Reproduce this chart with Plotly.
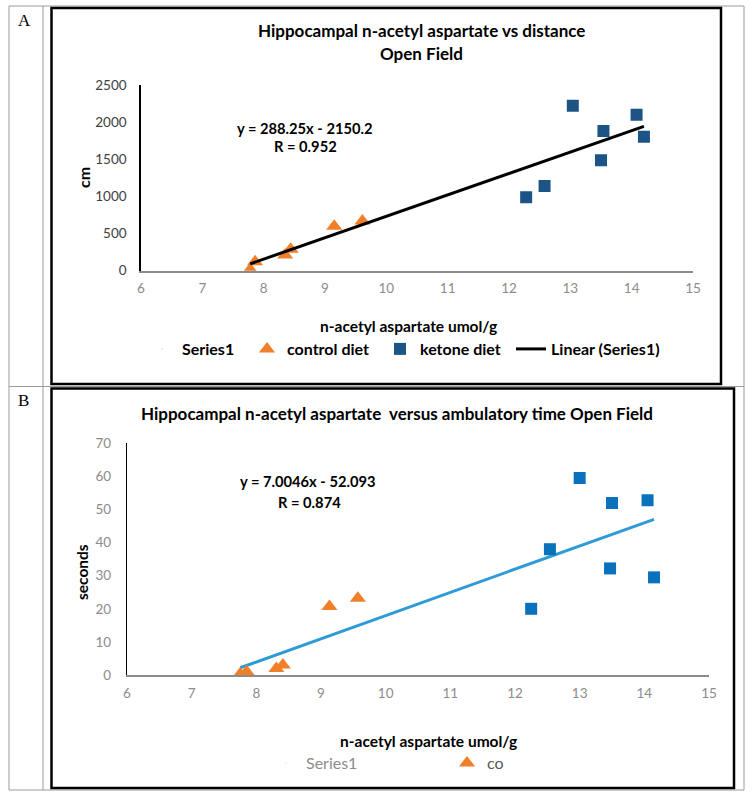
import plotly.graph_objects as go

W, H = 755, 800


def px(x):
    return x / W


def py(y):
    return 1 - y / H


# ---------------- data ----------------
x_ticks = [6, 7, 8, 9, 10, 11, 12, 13, 14, 15]

# Panel A: distance (cm)
a_control_x = [7.78, 7.86, 8.35, 8.44, 9.15, 9.61]
a_control_y = [15, 120, 211, 290, 600, 670]
a_ketone_x = [12.28, 12.58, 13.04, 13.50, 13.54, 14.08, 14.20]
a_ketone_y = [988, 1140, 2221, 1486, 1880, 2100, 1804]
a_slope, a_intercept = 288.25, -2150.2
a_y_ticks = [0, 500, 1000, 1500, 2000, 2500]

# Panel B: ambulatory time (seconds)
b_control_x = [7.75, 7.85, 8.31, 8.41, 9.13, 9.57]
b_control_y = [0.3, 1, 2, 3, 20.7, 23.2]
b_ketone_x = [12.25, 12.54, 13.00, 13.47, 13.50, 14.05, 14.15]
b_ketone_y = [20, 38, 59.5, 32.2, 52, 52.8, 29.5]
b_slope, b_intercept = 7.0046, -52.093
b_y_ticks = [0, 10, 20, 30, 40, 50, 60, 70]

FONT = "Lato"
ORANGE = "#F07F2A"
DARKBLUE = "#1C5486"
BLUE = "#0A72BD"
LIGHTBLUE = "#2E9BD8"

fig = go.Figure()

# ---- Panel A traces ----
a_all_x = a_control_x + a_ketone_x
a_all_y = a_control_y + a_ketone_y
fig.add_trace(go.Scatter(x=a_all_x, y=a_all_y, mode="markers", name="Series1",
                         marker=dict(size=1, opacity=0), xaxis="x", yaxis="y",
                         legend="legend", legendwidth=60, hoverinfo="skip"))
fig.add_trace(go.Scatter(x=a_control_x, y=a_control_y, mode="markers", name="control diet",
                         marker=dict(symbol="triangle-up", size=14, color=ORANGE),
                         xaxis="x", yaxis="y", legend="legend", legendwidth=88))
fig.add_trace(go.Scatter(x=a_ketone_x, y=a_ketone_y, mode="markers", name="ketone diet",
                         marker=dict(symbol="square", size=12, color=DARKBLUE),
                         xaxis="x", yaxis="y", legend="legend", legendwidth=86))
a_lx = [min(a_all_x), max(a_all_x)]
a_ly = [a_slope * v + a_intercept for v in a_lx]
fig.add_trace(go.Scatter(x=a_lx, y=a_ly, mode="lines", name="Linear (Series1)",
                         line=dict(color="black", width=3), xaxis="x", yaxis="y",
                         legend="legend"))

# ---- Panel B traces ----
b_all_x = b_control_x + b_ketone_x
b_all_y = b_control_y + b_ketone_y
fig.add_trace(go.Scatter(x=b_all_x, y=b_all_y, mode="markers",
                         name="<span style='color:#8C8C8C'>Series1</span>",
                         marker=dict(size=1, opacity=0), xaxis="x2", yaxis="y2",
                         legend="legend2", legendwidth=136, hoverinfo="skip"))
b_lx = [min(b_all_x), max(b_all_x)]
b_ly = [b_slope * v + b_intercept for v in b_lx]
fig.add_trace(go.Scatter(x=b_lx, y=b_ly, mode="lines", name="Linear",
                         line=dict(color=LIGHTBLUE, width=3), xaxis="x2", yaxis="y2",
                         showlegend=False))
fig.add_trace(go.Scatter(x=b_control_x, y=b_control_y, mode="markers", name="co",
                         marker=dict(symbol="triangle-up", size=14, color=ORANGE),
                         xaxis="x2", yaxis="y2", legend="legend2"))
fig.add_trace(go.Scatter(x=b_ketone_x, y=b_ketone_y, mode="markers", name="ketone",
                         marker=dict(symbol="square", size=12, color=BLUE),
                         xaxis="x2", yaxis="y2", showlegend=False))

# ---- axes ----
common_x = dict(range=[6, 15], tickvals=x_ticks, showgrid=False, zeroline=False,
                showline=True, linecolor="#8A8A8A", linewidth=1.5, ticks="",
                automargin=False,
                tickfont=dict(family=FONT, size=13.5, color="#8C8C8C"), fixedrange=True)

fig.update_layout(
    width=W, height=H, autosize=False,
    margin=dict(l=0, r=0, t=0, b=0, pad=0, autoexpand=False),
    paper_bgcolor="white", plot_bgcolor="white",
    font=dict(family=FONT, color="black"),
    xaxis=dict(common_x, domain=[px(141), px(693)], anchor="y", ticklabelstandoff=4),
    yaxis=dict(range=[0, 2500], tickvals=a_y_ticks, domain=[py(270.7), py(85)],
               anchor="x", showgrid=False, zeroline=False, showline=True,
               linecolor="black", linewidth=1.5, ticks="", automargin=False,
               tickfont=dict(family=FONT, size=13.5, color="#404040"),
               ticklabelstandoff=10),
    xaxis2=dict(common_x, domain=[px(127), px(709)], anchor="y2", ticklabelstandoff=5),
    yaxis2=dict(range=[0, 70], tickvals=b_y_ticks, domain=[py(675), py(443.3)],
                anchor="x2", showgrid=False, zeroline=False, showline=True,
                linecolor="black", linewidth=1.2, ticks="", automargin=False,
                tickfont=dict(family=FONT, size=13.5, color="#8C8C8C"),
                ticklabelstandoff=12),
    legend=dict(orientation="h", x=px(142), y=py(349), xanchor="left", yanchor="middle",
                xref="container", yref="container",
                font=dict(family=FONT, size=16, color="black", weight="bold"),
                bgcolor="rgba(0,0,0,0)", borderwidth=0, itemclick=False,
                itemdoubleclick=False, tracegroupgap=0),
    legend2=dict(orientation="h", x=px(266), y=py(763), xanchor="left", yanchor="middle",
                 xref="container", yref="container",
                 font=dict(family=FONT, size=16, color="#595959"),
                 bgcolor="rgba(0,0,0,0)", borderwidth=0, itemclick=False,
                 itemdoubleclick=False),
    showlegend=True,
)

# ---- text annotations ----
ann = []


def text(x, y, s, size, bold=True, color="black", angle=0, family=FONT):
    ann.append(dict(x=px(x), y=py(y), xref="paper", yref="paper", text=s,
                    showarrow=False, xanchor="center", yanchor="middle",
                    textangle=angle,
                    font=dict(family=family, size=size, color=color,
                              weight="bold" if bold else "normal")))


text(421, 31, "Hippocampal n-acetyl aspartate vs distance", 17)
text(421, 53, "Open Field", 17)
text(305, 128, "y = 288.25x - 2150.2", 14.7)
text(305, 146, "R = 0.952", 14.7)
text(83, 178, "cm", 16, angle=-90)
text(408, 326, "n-acetyl aspartate umol/g", 15.5)

text(397, 413, "Hippocampal n-acetyl aspartate  versus ambulatory time Open Field", 17)
text(308, 481, "y = 7.0046x - 52.093", 14.7)
text(309, 502, "R = 0.874", 14.7)
text(82, 572, "seconds", 15.5, angle=-90)
text(428, 741, "n-acetyl aspartate umol/g", 15.5)

text(24, 20, "A", 17, bold=False, family="Liberation Serif")
text(23, 400, "B", 17, bold=False, family="Liberation Serif")
fig.update_layout(annotations=ann)

# ---- table frame & chart boxes ----
shapes = []


def line(x0, y0, x1, y1, color="#9A9A9A", width=1):
    shapes.append(dict(type="line", xref="paper", yref="paper", x0=px(x0), y0=py(y0),
                       x1=px(x1), y1=py(y1), line=dict(color=color, width=width)))


line(9, 6, 744, 6)
line(9, 790, 744, 790)
line(9, 6, 9, 790)
line(43, 6, 43, 790)
line(744, 6, 744, 790)
line(9, 386.5, 744, 386.5)

for (x0, y0, x1, y1) in [(51.5, 8, 721, 384), (51.5, 388.5, 734, 788)]:
    shapes.append(dict(type="rect", xref="paper", yref="paper", x0=px(x0), y0=py(y0),
                       x1=px(x1), y1=py(y1), line=dict(color="black", width=2.5),
                       fillcolor="rgba(0,0,0,0)", layer="above"))
fig.update_layout(shapes=shapes)

fig.write_html("out.html", config={"displayModeBar": False},
               post_script="document.body.style.margin='0';")
